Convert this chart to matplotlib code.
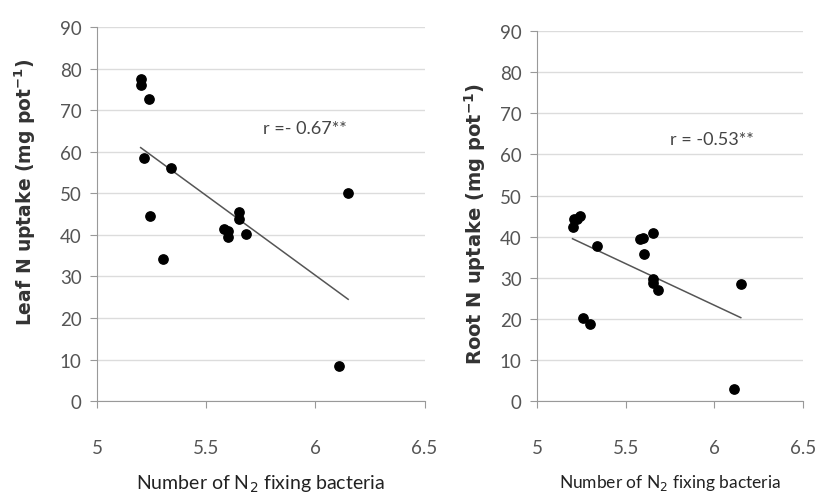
import matplotlib.pyplot as plt

# bacteria counts (x) and N uptake (y)
leaf_x = [5.20, 5.20, 5.24, 5.215, 5.34, 5.245, 5.30, 5.58, 5.60, 5.60, 5.65, 5.65, 5.68, 6.15, 6.11]
leaf_y = [77.4, 76.0, 72.8, 58.6, 56.0, 44.5, 34.3, 41.3, 41.0, 39.5, 45.6, 43.8, 40.1, 50.0, 8.4]
leaf_fit_x = [5.20, 6.15]
leaf_fit_y = [61.0, 24.5]

root_x = [5.20, 5.207, 5.225, 5.244, 5.34, 5.257, 5.30, 5.583, 5.60, 5.605, 5.652, 5.652, 5.652, 5.684, 6.15, 6.109]
root_y = [42.4, 44.4, 44.4, 45.0, 37.7, 20.2, 18.8, 39.5, 39.7, 35.8, 40.9, 29.8, 28.8, 27.1, 28.5, 3.0]
root_fit_x = [5.20, 6.15]
root_fit_y = [39.5, 20.3]

x_ticks = [5, 5.5, 6, 6.5]
x_tick_labels = ['5', '5.5', '6', '6.5']
y_ticks = list(range(0, 100, 10))

thin = 'Lato'

fig = plt.figure(figsize=(8.15, 5.02), dpi=100)


def panel(rect, xs, ys, fx, fy, ylabel, ylab_size, ylab_pos, rtext, rpos, lab_size):
    ax = fig.add_axes(rect)
    ax.scatter(xs, ys, s=45, color='black', zorder=3)
    ax.plot(fx, fy, color='#555555', lw=1.1, zorder=2)
    ax.set_xlim(5, 6.5)
    ax.set_ylim(0, 90)
    ax.set_xticks(x_ticks)
    ax.set_xticklabels(x_tick_labels)
    ax.set_yticks(y_ticks)
    ax.yaxis.grid(True, color='#dcdcdc', lw=1)
    ax.set_axisbelow(True)
    for s in ['top', 'right']:
        ax.spines[s].set_visible(False)
    ax.spines['left'].set_color('#999999')
    ax.spines['bottom'].set_color('#999999')
    ax.tick_params(axis='x', direction='out', length=5, color='#999999', pad=22,
                   labelsize=13.5, labelcolor='#555555')
    ax.tick_params(axis='y', direction='out', length=5, color='#999999', pad=6,
                   labelsize=13.5, labelcolor='#555555')
    for t in ax.get_xticklabels() + ax.get_yticklabels():
        t.set_family(thin)
    ax.set_ylabel(ylabel, fontsize=ylab_size, fontweight='bold', color='#333333')
    ax.yaxis.set_label_coords(*ylab_pos)
    ax.set_xlabel('Number of N$_2$ fixing bacteria', fontsize=lab_size, family=thin,
                  color='#222222', labelpad=12)
    ax.text(rpos[0], rpos[1], rtext, fontsize=13, family=thin, color='#444444')
    return ax


panel([0.119, 0.199, 0.402, 0.745], leaf_x, leaf_y, leaf_fit_x, leaf_fit_y,
      'Leaf N uptake (mg pot$^{\\mathbf{-1}}$)', 13.5, (-0.18, 0.56), 'r =- 0.67**', (5.76, 64.5), 14)
panel([0.659, 0.199, 0.326, 0.737], root_x, root_y, root_fit_x, root_fit_y,
      'Root N uptake (mg pot$^{\\mathbf{-1}}$)', 14, (-0.185, 0.48), 'r = -0.53**', (5.75, 62.5), 12.5)

fig.savefig('out.png', dpi=100)
